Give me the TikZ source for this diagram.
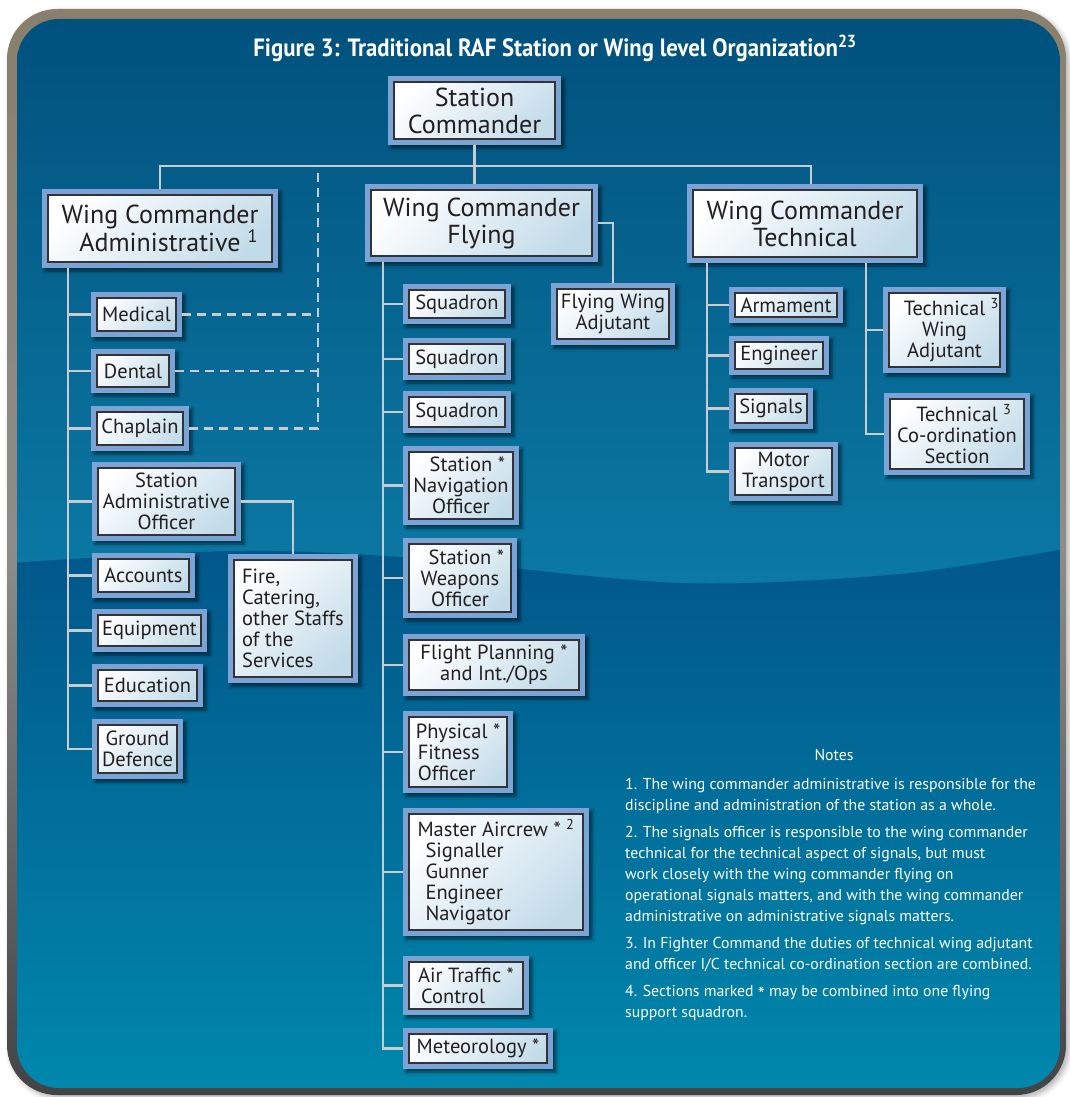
\documentclass[tikz,border=0pt]{standalone}
\usepackage{fontspec}
\setmainfont{PT Sans}
\newfontfamily\titlefont{PT Sans}[FakeStretch=0.91]
\newfontfamily\notefont{PT Sans}
\usetikzlibrary{shadows.blur,calc}

\definecolor{frtop}{HTML}{8A7F6C}
\definecolor{frmid}{HTML}{8E8C8A}
\definecolor{frbot}{HTML}{434346}
\definecolor{bgtop}{HTML}{01517D}
\definecolor{bgwave}{HTML}{0B7AA5}
\definecolor{lowtop}{HTML}{02578A}
\definecolor{lowbot}{HTML}{0088AD}
\definecolor{bblue}{HTML}{7BA3D5}
\definecolor{edge}{HTML}{333335}
\definecolor{pale}{HTML}{C2DBE9}
\definecolor{ink}{HTML}{231F20}
\definecolor{lgrey}{HTML}{C9CCCE}

\tikzset{
  box/.style={fill=bblue, draw=none, inner sep=0pt, text=ink, align=center,
    blur shadow={shadow xshift=3pt, shadow yshift=-3pt, shadow blur radius=3pt, shadow opacity=55},
    path picture={\draw[line width=1.3pt, draw=edge, top color=white, bottom color=pale, shading angle=45]
      ([xshift=6pt,yshift=-6pt]path picture bounding box.north west) rectangle
      ([xshift=-6pt,yshift=6pt]path picture bounding box.south east);}},
  big/.style={font=\fontsize{26}{27}\selectfont},
  small/.style={font=\fontsize{20.5}{21}\selectfont},
  conn/.style={draw=lgrey, line width=2.5pt},
  dline/.style={draw=lgrey, line width=2.5pt, dash pattern=on 9pt off 6pt},
}

% box: name, x1, y1, x2, y2 (outer frame), options, text
\newcommand\bx[7]{\node[box,minimum width={#4-#2},minimum height={#5-#3},#6] (#1) at ({(#2+#4)/2},{(#3+#5)/2}) {#7};}
\newcommand\hang[1]{\rlap{#1}}

\begin{document}
\begin{tikzpicture}[x=1pt,y=-1pt]
\useasboundingbox (0,0) rectangle (1070,1097);

% outer frame and panel
\shade[top color=frtop, bottom color=frbot, middle color=frmid, rounded corners=50pt,
  blur shadow={shadow xshift=3pt, shadow yshift=-3pt, shadow blur radius=5pt, shadow opacity=30}]
  (7,9) rectangle (1066,1095);
\begin{scope}
  \clip[rounded corners=42pt] (17,19) rectangle (1060,1088);
  \shade[top color=bgtop, bottom color=bgwave] (17,19) rectangle (1060,590);
  \shade[top color=lowtop, bottom color=lowbot]
    plot[smooth] coordinates {(10,563) (230,551) (400,557) (680,583) (900,574) (1070,548)}
    -- (1070,1097) -- (10,1097) -- cycle;
\end{scope}

% title
\node[text=white, font=\titlefont\bfseries\fontsize{25}{27}\selectfont] (ttl) at (555,48)
  {Figure 3: Traditional RAF Station or Wing level Organization\textsuperscript{23}};

% boxes
\bx{sc}{388}{76}{561}{145}{big}{Station\\Commander}
\bx{wca}{42}{189}{278}{268}{big}{Wing Commander\\Administrative\hang{ \textsuperscript{1}}}
\bx{wcf}{365}{184}{598}{262}{big}{Wing Commander\\Flying}
\bx{wct}{687}{184}{923}{263}{big}{Wing Commander\\Technical}
\bx{med}{91}{292}{182}{337}{small}{Medical}
\bx{den}{91}{349}{175}{393}{small}{Dental}
\bx{chap}{91}{406}{189}{451}{small}{Chaplain}
\bx{sao}{92}{462}{241}{541}{small}{Station\\Administrative\\Officer}
\bx{acc}{92}{553}{195}{598}{small}{Accounts}
\bx{equ}{92}{609}{207}{652}{small}{Equipment}
\bx{edu}{92}{664}{203}{707}{small}{Education}
\bx{gd}{92}{719}{183}{779}{small}{Ground\\Defence}
\bx{fire}{228}{554}{358}{683}{small,align=left}{Fire,\\Catering,\\other Staffs\\of the\\Services}
\bx{sq1}{403}{284}{511}{324}{small}{Squadron}
\bx{sq2}{403}{338}{511}{380}{small}{Squadron}
\bx{sq3}{403}{391}{511}{433}{small}{Squadron}
\bx{nav}{403}{446}{519}{525}{small}{Station\hang{ *}\\Navigation\\Officer}
\bx{wpn}{403}{538}{517}{618}{small}{Station\hang{ *}\\Weapons\\Officer}
\bx{fpl}{403}{634}{585}{696}{small}{Flight Planning *\\and Int./Ops}
\bx{pfo}{403}{711}{513}{793}{small,align=left}{Physical *\\\hspace{2pt}Fitness\\\hspace{2pt}Officer}
\bx{mac}{403}{808}{589}{936}{small,align=left}{Master Aircrew * \textsuperscript{2}\\\hspace{8pt}Signaller\\\hspace{8pt}Gunner\\\hspace{8pt}Engineer\\\hspace{8pt}Navigator}
\bx{atc}{403}{956}{529}{1015}{small,align=left}{Air Traffic *\\\hspace{3pt}Control}
\bx{met}{403}{1028}{553}{1069}{small}{Meteorology *}
\bx{fwa}{551}{283}{675}{345}{small}{Flying Wing\\Adjutant}
\bx{arm}{729}{287}{843}{323}{small}{Armament}
\bx{eng}{729}{336}{829}{375}{small}{Engineer}
\bx{sig}{729}{388}{813}{429}{small}{Signals}
\bx{mt}{729}{442}{838}{501}{small}{Motor\\Transport}
\bx{twa}{883}{287}{1006}{373}{small}{Technical\hang{ \textsuperscript{3}}\\Wing\\Adjutant}
\bx{tcs}{884}{393}{1030}{475}{small}{Technical\hang{ \textsuperscript{3}}\\Co-ordination\\Section}

% connector anchors
\coordinate (bus) at (474.5,166);
\coordinate (tbus) at (811,166);
\coordinate (dtop) at (318,166);
\coordinate (lt) at (68,268);
\coordinate (ft) at (383,262);
\coordinate (tl) at (707,263);
\coordinate (tr) at (866,263);

% connectors, ending on the box edges
\draw[conn] (sc.south) -- (sc.south |- wcf.north);
\draw[conn] (wca.north) -- (wca.north |- bus) -- (tbus) -- (tbus |- wct.north);
\draw[dline] (chap.east) -| (dtop);
\draw[dline] (med.east) -- (med.east -| dtop);
\draw[dline] (den.east) -- (den.east -| dtop);
\draw[conn] (lt) |- (gd.west);
\foreach \n in {med,den,chap,sao,acc,equ,edu} \draw[conn] (lt |- \n.west) -- (\n.west);
\draw[conn] (sao.east) -| (fire.north);
\draw[conn] (ft) |- (met.west);
\foreach \n in {sq1,sq2,sq3,nav,wpn,fpl,pfo,mac,atc} \draw[conn] (ft |- \n.west) -- (\n.west);
\draw[conn] (wcf.east) -| (fwa.north);
\draw[conn] (tl) |- (mt.west);
\foreach \n in {arm,eng,sig} \draw[conn] (tl |- \n.west) -- (\n.west);
\draw[conn] (tr) |- (tcs.west);
\draw[conn] (tr |- twa.west) -- (twa.west);

% notes
\node[text=white, font=\notefont\fontsize{15.8}{21}\selectfont] (nh) at (834,755) {Notes};
\node[text=white, anchor=north west, inner sep=0pt, align=left,
  font=\notefont\fontsize{15.8}{21}\selectfont] (notes) at (625,778)
 {1. The wing commander administrative is responsible for the\\
  discipline and administration of the station as a whole.\\[6pt]
  2. The signals officer is responsible to the wing commander\\
  technical for the technical aspect of signals, but must\\
  work closely with the wing commander flying on\\
  operational signals matters, and with the wing commander\\
  administrative on administrative signals matters.\\[6pt]
  3. In Fighter Command the duties of technical wing adjutant\\
  and officer I/C technical co-ordination section are combined.\\[6pt]
  4. Sections marked {\fontsize{20}{21}\selectfont\raisebox{-5pt}{*}} may be combined into one flying\\
  support squadron.};
\end{tikzpicture}
\end{document}
